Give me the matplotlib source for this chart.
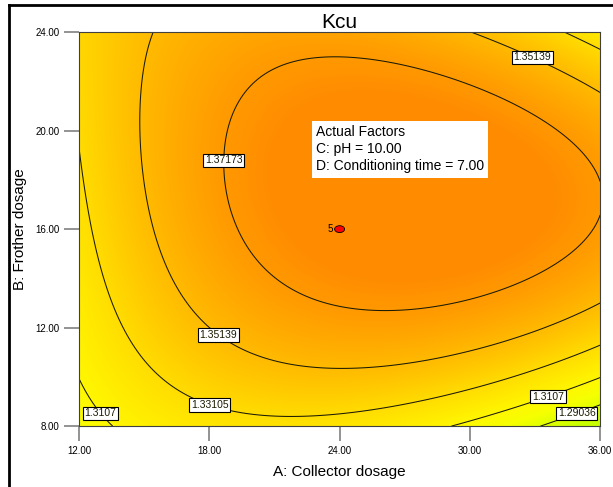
import numpy as np
import matplotlib
matplotlib.use("Agg")
import matplotlib.pyplot as plt
from matplotlib.colors import LinearSegmentedColormap
from matplotlib.lines import Line2D
from matplotlib.patches import Ellipse

plt.rcParams["font.family"] = ["Liberation Sans", "DejaVu Sans"]

# contour levels shown on the chart
levels = [1.29036, 1.3107, 1.33105, 1.35139, 1.37173]

# points (A: collector dosage, B: frother dosage)
pts_137173 = [(20.3, 22.1), (19.1, 20.9), (18.6, 19.4), (18.6, 17.9), (19.1, 15.9),
              (20.3, 14.3), (21.9, 13.2), (24.0, 12.7), (26.6, 12.4), (29.7, 12.8),
              (32.8, 13.6), (34.3, 14.4), (35.1, 19.1), (32.8, 20.5), (29.7, 22.0),
              (27.4, 23.0), (24.0, 22.9), (36.0, 17.2)]
pts_135139 = [(16.2, 24.0), (15.6, 22.2), (14.9, 20.2), (14.9, 18.9), (15.4, 15.7),
              (16.2, 13.6), (17.7, 12.2), (20.3, 11.0), (24.0, 10.3), (26.7, 10.3),
              (29.7, 11.0), (32.8, 11.9), (36.0, 13.0),
              (29.6, 24.0), (31.3, 23.5), (32.9, 23.0), (34.3, 22.3), (36.0, 21.4)]
pts_133105 = [(12.0, 19.5), (12.4, 17.5), (12.6, 15.7), (13.1, 14.7), (14.2, 12.3),
              (15.7, 10.5), (18.0, 9.0), (20.3, 8.55), (24.0, 8.35), (28.2, 9.3),
              (32.0, 10.3), (36.0, 11.35), (34.3, 24.0), (36.0, 23.1)]
pts_13107 = [(12.0, 9.85), (12.6, 9.0), (13.4, 8.0), (29.4, 8.0), (32.0, 9.15),
             (36.0, 10.05)]
pts_129036 = [(33.1, 8.0), (35.0, 8.6), (36.0, 9.0)]
# rough corner readings
corners = [(12.0, 24.0, 1.339), (12.0, 8.0, 1.305), (36.0, 8.0, 1.282), (36.0, 24.0, 1.326)]

label_pos = [(32.9, 23.0), (18.6, 18.8), (18.5, 11.8), (18.1, 9.05),
             (13.1, 8.6), (33.5, 9.45), (34.8, 8.8)]

def terms(a, b):
    A = (a - 24) / 12
    B = (b - 16) / 8
    return [np.ones_like(A), A, B, A * B, A * A, B * B, A * A * B, A * B * B, A ** 3, B ** 3]

# fit the response surface to the traced contours
rows, vals = [], []
for lev, pts in zip([1.37173, 1.35139, 1.33105, 1.3107, 1.29036],
                    [pts_137173, pts_135139, pts_133105, pts_13107, pts_129036]):
    for a, b in pts:
        rows.append(terms(a, b))
        vals.append(lev)
for a, b, v in corners:
    rows.append(terms(a, b))
    vals.append(v)
coef = np.linalg.lstsq(np.array(rows, dtype=float), np.array(vals), rcond=None)[0]

xa = np.linspace(12, 36, 300)
yb = np.linspace(8, 24, 300)
X, Y = np.meshgrid(xa, yb)
Z = sum(c * t for c, t in zip(coef, terms(X, Y)))

cmap = LinearSegmentedColormap.from_list("de", [
    (0.0, (0.78, 1.0, 0.0)),
    (0.2, (0.96, 1.0, 0.0)),
    (0.3, (1.0, 0.97, 0.0)),
    (0.5, (1.0, 0.87, 0.0)),
    (0.7, (1.0, 0.74, 0.0)),
    (0.9, (1.0, 0.61, 0.0)),
    (1.0, (1.0, 0.55, 0.0))])

fig = plt.figure(figsize=(6.13, 4.87), dpi=100)
ax = fig.add_axes([0.129, 0.125, 0.850, 0.809])
ax.contourf(X, Y, Z, levels=200, cmap=cmap, vmin=1.28, vmax=1.38)
cs = ax.contour(X, Y, Z, levels=levels, colors="#1a1a00", linewidths=0.75)
texts = ax.clabel(cs, fmt=lambda v: ("%.5f" % v).rstrip("0"), fontsize=7.5,
                  inline=False, manual=label_pos)
for t in texts:
    t.set_rotation(0)
    t.set_bbox(dict(facecolor="white", edgecolor="black", pad=1.2, linewidth=0.8))

ax.add_patch(Ellipse((24, 16), 0.46, 0.28, facecolor="red", edgecolor="black", lw=0.6, zorder=5))
ax.text(23.7, 16, "5", fontsize=7, ha="right", va="center")

ax.text(0.455, 0.703, "Actual Factors\nC: pH = 10.00\nD: Conditioning time = 7.00",
        transform=ax.transAxes, fontsize=10, va="center", ha="left", linespacing=1.3,
        bbox=dict(facecolor="white", edgecolor="none", pad=3))

ax.set_xlim(12, 36)
ax.set_ylim(8, 24)
ax.set_xticks([12, 18, 24, 30, 36])
ax.set_yticks([8, 12, 16, 20, 24])
ax.set_xticklabels(["12.00", "18.00", "24.00", "30.00", "36.00"])
ax.set_yticklabels(["8.00", "12.00", "16.00", "20.00", "24.00"])
ax.tick_params(direction="out", length=11, width=1.2, color="gray", labelsize=7, pad=3)
ax.set_xlabel("A: Collector dosage", fontsize=11, labelpad=7)
ax.set_ylabel("B: Frother dosage", fontsize=11, labelpad=6)
ax.set_title("Kcu", fontsize=15, pad=3)
for s in ax.spines.values():
    s.set_linewidth(0.8)
    s.set_color("#404040")

fig.add_artist(Line2D([8.5 / 613, 8.5 / 613], [0, 1 - 5 / 487], color="black", lw=2))
fig.add_artist(Line2D([8.5 / 613, 1], [1 - 5 / 487, 1 - 5 / 487], color="black", lw=2))

fig.savefig("out.png", dpi=100)
